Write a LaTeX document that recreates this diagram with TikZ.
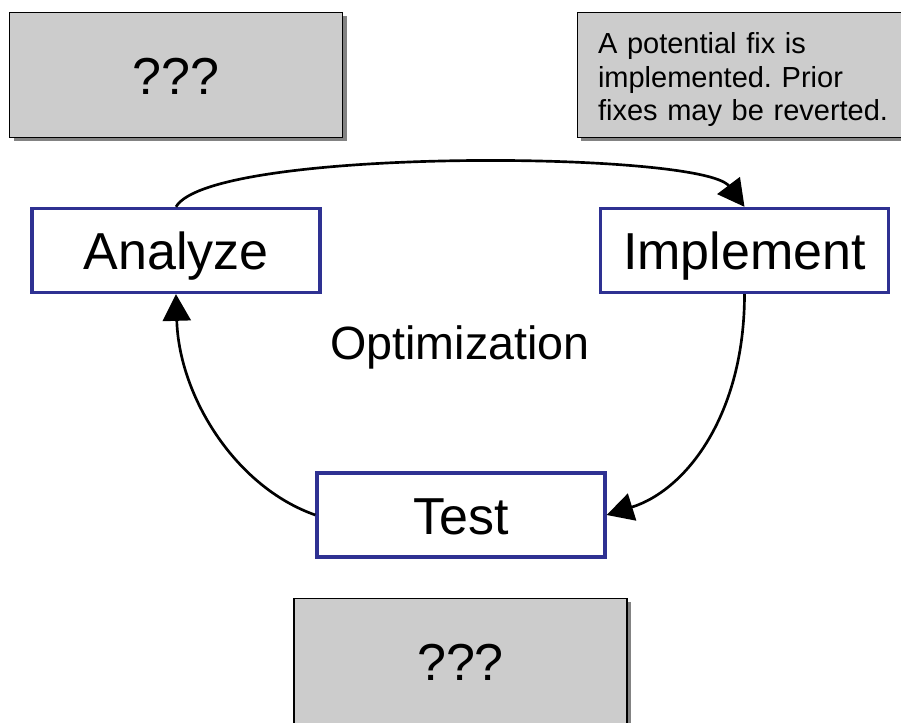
\documentclass[tikz,border=0pt]{standalone}
\usepackage{fontspec}
\setmainfont{Liberation Sans}
\usetikzlibrary{positioning,arrows.meta,shadows}
\definecolor{stepblue}{RGB}{46,49,146}
\definecolor{notegray}{RGB}{204,204,204}
\frenchspacing

\begin{document}
\begin{tikzpicture}[
  x=0.75pt, y=-0.75pt,
  >={Triangle[length=20pt, width=21pt]},
  big/.style={font=\fontsize{39}{47}\selectfont, text height=37pt, text depth=7.8pt},
  stepbox/.style={big, draw=stepblue, line width=2.5pt, fill=white, minimum width=216pt, minimum height=63pt},
  note/.style={draw, line width=1pt, fill=notegray, minimum width=249.75pt, minimum height=93.75pt,
    drop shadow={shadow xshift=3pt, shadow yshift=-3pt, opacity=0.65, fill=black!75}},
  flow/.style={->, line width=2pt},
  lbl/.style={font=\fontsize{35}{42}\selectfont}
]
\useasboundingbox (0,0) rectangle (901,723);
\clip (0,0) rectangle (901,723);

% notes (grey boxes)
\node[note, big] (qtop) at (176,75) {???};
\node[note, align=left, text width=219pt, inner xsep=15.4pt, font=\fontsize{21.75}{25}\selectfont] (fixnote) at (744,75)
  {\rule{0pt}{23pt}A potential fix is\\implemented. Prior\\fixes may be reverted.};
\node[note, big] (qbot) at (460.5,661) {???};

% cycle steps
\node[stepbox] (analyze) at (176,250.5) {Analyze};
\node[stepbox] (implement) at (744.5,250.5) {Implement};
\node[stepbox] (test) at (461,515) {Test};
\node[lbl] (optim) at (460,347) {Optimization};

% arrows
\draw[flow] (analyze.north) .. controls +(35,-60) and +(-42,-56) .. (implement.north);
\draw[flow] (implement.south) .. controls +(0,120) and +(80,-25) .. (test.east);
\draw[flow] (test.west) .. controls +(-80,-28) and +(3,102) .. (analyze.south);

\end{tikzpicture}
\end{document}
